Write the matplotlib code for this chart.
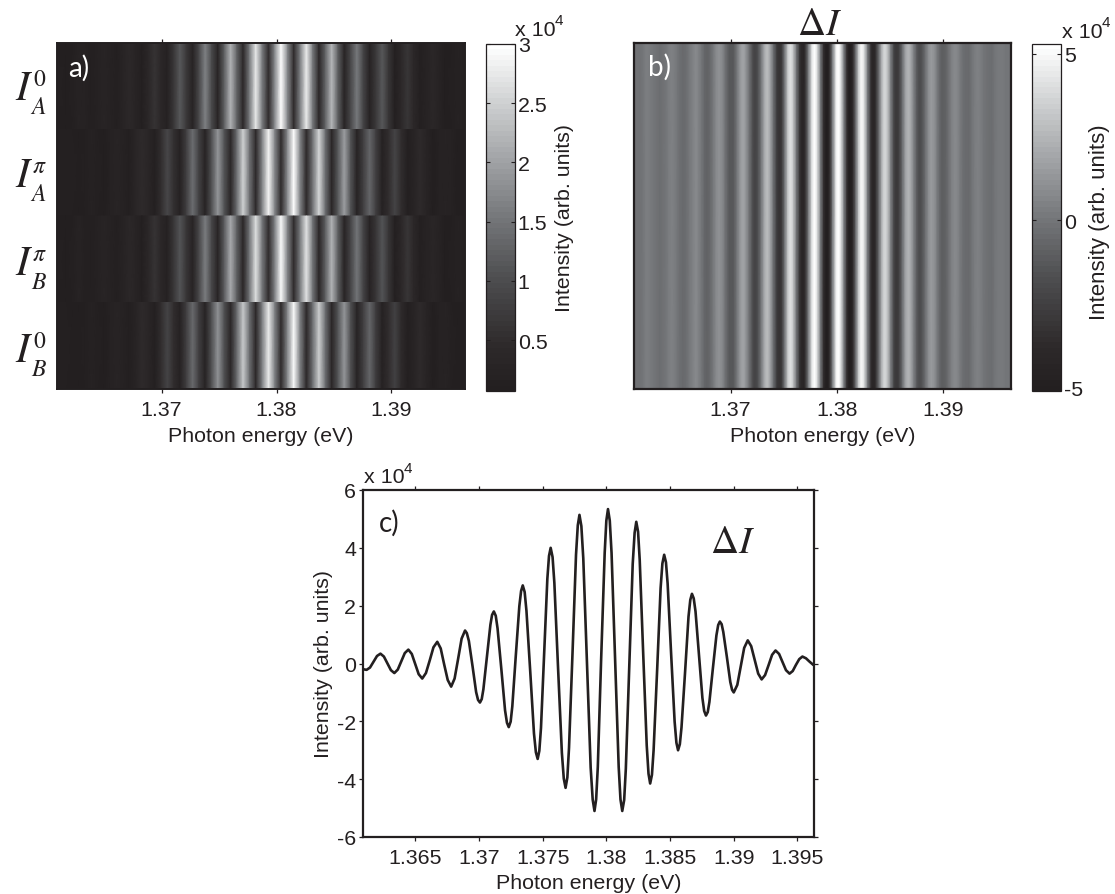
import numpy as np
import matplotlib
matplotlib.use("Agg")
import matplotlib.pyplot as plt
from matplotlib.colors import LinearSegmentedColormap, Normalize
from matplotlib.cm import ScalarMappable

# ---------- data ----------
row_sup = ['0', r'$\pi$', r'$\pi$', '0']
row_sub = ['A', 'A', 'B', 'B']

row_energy = [1.36090, 1.36170, 1.36225, 1.36280, 1.36335, 1.36390, 1.36445, 1.36500, 1.36555, 1.36610,
              1.36665, 1.36720, 1.36775, 1.36830, 1.36885, 1.36940, 1.36995, 1.37050, 1.37105, 1.37160,
              1.37215, 1.37270, 1.37325, 1.37380, 1.37435, 1.37490, 1.37545, 1.37600, 1.37655, 1.37710,
              1.37765, 1.37820, 1.37875, 1.37930, 1.37985, 1.38040, 1.38095, 1.38150, 1.38205, 1.38260,
              1.38315, 1.38370, 1.38425, 1.38480, 1.38535, 1.38590, 1.38645, 1.38700, 1.38755, 1.38810,
              1.38865, 1.38920, 1.38975, 1.39030, 1.39085, 1.39140, 1.39195, 1.39250, 1.39305, 1.39360,
              1.39415, 1.39470, 1.39525, 1.39580, 1.39640]

row_A0 = [.14, .11, .16, .22, .17, .12, .20, .28, .20, .13, .26, .40, .27, .15, .37, .60, .39, .18, .66, 1.15,
          .68, .22, .93, 1.65, .96, .28, 1.24, 2.20, 1.27, .35, 1.55, 2.75, 1.60, .45, 1.72, 3.00, 1.72, .45,
          1.62, 2.80, 1.58, .35, 1.30, 2.25, 1.26, .28, .90, 1.55, .88, .22, .68, 1.15, .65, .15, .40, .65,
          .38, .12, .23, .35, .22, .10, .15, .20, .14]

row_Api = [.12, .14, .12, .10, .15, .20, .15, .10, .19, .28, .20, .12, .30, .48, .31, .14, .52, .90, .54, .18,
           .79, 1.40, .82, .24, 1.07, 1.90, 1.10, .30, 1.40, 2.50, 1.45, .40, 1.65, 2.90, 1.69, .48, 1.74, 3.00,
           1.70, .40, 1.48, 2.55, 1.44, .32, 1.14, 1.95, 1.10, .24, .80, 1.35, .76, .17, .51, .85, .49, .12,
           .28, .45, .28, .11, .18, .25, .17, .10, .11]

row_Bpi = [.14, .11, .15, .21, .16, .12, .19, .27, .19, .13, .25, .38, .26, .15, .36, .58, .38, .17, .64, 1.12,
           .66, .21, .90, 1.60, .93, .27, 1.20, 2.13, 1.23, .34, 1.50, 2.67, 1.55, .44, 1.67, 2.95, 1.68, .44,
           1.57, 2.72, 1.53, .34, 1.26, 2.18, 1.22, .27, .87, 1.50, .85, .21, .66, 1.12, .63, .15, .39, .63,
           .37, .12, .22, .34, .21, .10, .15, .19, .14]

row_B0 = [.12, .13, .11, .10, .14, .19, .14, .10, .18, .27, .19, .12, .29, .46, .30, .14, .50, .87, .52, .18,
          .77, 1.36, .80, .24, 1.04, 1.84, 1.07, .30, 1.36, 2.43, 1.41, .39, 1.60, 2.81, 1.64, .47, 1.70, 2.95,
          1.66, .39, 1.44, 2.47, 1.40, .31, 1.11, 1.89, 1.07, .24, .78, 1.31, .74, .17, .50, .82, .48, .12,
          .27, .44, .27, .11, .17, .24, .16, .10, .11]

delta_energy = [1.36069, 1.36094, 1.36118, 1.36145, 1.36172, 1.36200, 1.36227, 1.36254, 1.36282, 1.36309, 1.36336,
                1.36363, 1.36391, 1.36418, 1.36446, 1.36473, 1.36500, 1.36527, 1.36555, 1.36584, 1.36614,
                1.36643, 1.36673, 1.36700, 1.36727, 1.36755, 1.36782, 1.36809, 1.36837, 1.36864, 1.36891,
                1.36905, 1.36921, 1.36950, 1.36978, 1.36993, 1.37008, 1.37022, 1.37035, 1.37062, 1.37090, 1.37103, 1.37117,
                1.37132, 1.37146, 1.37176, 1.37205, 1.37220, 1.37234, 1.37249, 1.37262, 1.37289, 1.37317, 1.37331, 1.37344,
                1.37359, 1.37373, 1.37403, 1.37432, 1.37447, 1.37461, 1.37474, 1.37487, 1.37512, 1.37537, 1.37550, 1.37563,
                1.37578, 1.37592, 1.37621, 1.37651, 1.37666, 1.37680, 1.37694, 1.37707, 1.37735, 1.37762, 1.37776, 1.37789,
                1.37804, 1.37819, 1.37848, 1.37877, 1.37893, 1.37907, 1.37920, 1.37933, 1.37959, 1.37987, 1.38000, 1.38013,
                1.38027, 1.38041, 1.38069, 1.38097, 1.38111, 1.38125, 1.38140, 1.38153, 1.38180, 1.38207, 1.38222, 1.38235,
                1.38249, 1.38262, 1.38289, 1.38317, 1.38331, 1.38344, 1.38358, 1.38371, 1.38399, 1.38426, 1.38440, 1.38454,
                1.38468, 1.38481, 1.38508, 1.38536, 1.38550, 1.38563, 1.38577, 1.38590, 1.38618, 1.38645, 1.38659, 1.38672,
                1.38686, 1.38700, 1.38727, 1.38754, 1.38768, 1.38782, 1.38796, 1.38809, 1.38836, 1.38864, 1.38878, 1.38891,
                1.38905, 1.38918, 1.38946, 1.38973, 1.38987, 1.39000, 1.39028, 1.39055, 1.39082, 1.39110,
                1.39137, 1.39164, 1.39192, 1.39219, 1.39246, 1.39274, 1.39301, 1.39328, 1.39356, 1.39383,
                1.39410, 1.39438, 1.39463, 1.39488, 1.39514, 1.39539, 1.39567, 1.39596, 1.39625, 1.39670]

delta_I = [-.15, -.20, -.22, -.14, .06, .26, .34, .24, .00, -.23, -.33,
           -.21, .08, .36, .48, .33, -.02, -.37, -.52, -.33, .11,
           .56, .75, .52, -.03, -.57, -.80, -.52, .17, .86, 1.14,
           1.05, .78, -.10, -.99, -1.26, -1.35, -1.23, -.89, .22, 1.34, 1.68, 1.80,
           1.65, 1.22, -.20, -1.62, -2.05, -2.20, -2.01, -1.48, .25, 1.98, 2.51, 2.70,
           2.47, 1.82, -.30, -2.42, -3.07, -3.30, -3.02, -2.23, .35, 2.93, 3.72, 4.00,
           3.68, 2.79, -.15, -3.09, -3.98, -4.30, -3.94, -2.92, .42, 3.76, 4.78, 5.14,
           4.75, 3.64, .02, -3.60, -4.71, -5.10, -4.70, -3.58, .12, 3.82, 4.94, 5.34,
           4.94, 3.82, .12, -3.58, -4.70, -5.10, -4.72, -3.64, -.10, 3.44, 4.52, 4.90,
           4.56, 3.58, .38, -2.83, -3.81, -4.15, -3.85, -3.00, -.20, 2.61, 3.46, 3.76,
           3.50, 2.77, .38, -2.01, -2.74, -3.00, -2.79, -2.21, -.30, 1.62, 2.20, 2.41,
           2.25, 1.80, .31, -1.19, -1.64, -1.80, -1.68, -1.33, -.18, .97, 1.33, 1.45,
           1.36, 1.09, .23, -.64, -.91, -1.00, -.74, -.10, .54, .80,
           .60, .13, -.35, -.55, -.40, -.05, .30, .45, .33, .05,
           -.23, -.35, -.26, -.05, .15, .24, .18, .06, -.05, -.10]

ticks_ab = [1.37, 1.38, 1.39]
ticks_c = [1.365, 1.37, 1.375, 1.38, 1.385, 1.39, 1.395]
ticklabels_c = ['1.365', '1.37', '1.375', '1.38', '1.385', '1.39', '1.395']
yticks_c = [-6, -4, -2, 0, 2, 4, 6]
cbar_a_ticks = [0.5, 1, 1.5, 2, 2.5, 3]
cbar_a_labels = ['0.5', '1', '1.5', '2', '2.5', '3']
cbar_b_ticks = [-5, 0, 5]

# ---------- style ----------
W, H = 1115, 895
INK = '#231f20'
plt.rcParams['font.family'] = ['Liberation Sans', 'DejaVu Sans']
plt.rcParams['mathtext.fontset'] = 'stix'
plt.rcParams['axes.unicode_minus'] = False
plt.rcParams['text.color'] = INK
plt.rcParams['axes.edgecolor'] = INK
plt.rcParams['axes.labelcolor'] = INK
plt.rcParams['xtick.color'] = INK
plt.rcParams['ytick.color'] = INK
FS = 15.4
SUP = 11
cmap = LinearSegmentedColormap.from_list(
    'inkgray',
    [(0.0, INK), (0.12, '#2d292a'), (0.32, '#4d4d4f'), (0.5, '#75777a'),
     (0.66, '#9fa1a4'), (0.83, '#cdcfd0'), (1.0, '#ffffff')], N=64)

fig = plt.figure(figsize=(W / 100, H / 100), dpi=100)


def box(x0, y0, x1, y1):
    return fig.add_axes([x0 / W, 1 - y1 / H, (x1 - x0) / W, (y1 - y0) / H])


def ftext(x, y, s, **kw):
    kw.setdefault('ha', 'center')
    kw.setdefault('va', 'center')
    return fig.text(x / W, 1 - y / H, s, **kw)


def times10(x, y):
    ftext(x, y, 'x 10', fontsize=FS, ha='left')
    ftext(x + 40, y - 9, '4', fontsize=SUP, ha='left')


# ---------- a) ----------
ax_a = box(57, 44, 465, 390)
rows = [row_A0, row_Api, row_Bpi, row_B0]
norm_a = Normalize(0.07, 3.0)
for i, row in enumerate(rows):
    top = 4 - i
    ax_a.pcolormesh(row_energy, [top - 1, top], np.vstack([row, row]),
                    shading='gouraud', cmap=cmap, norm=norm_a, rasterized=True)
ax_a.set_xlim(1.3609, 1.3964)
ax_a.set_ylim(0, 4)
ax_a.set_yticks([])
ax_a.set_xticks(ticks_ab, ['1.37', '1.38', '1.39'])
ax_a.tick_params(axis='x', top=True, direction='out', length=3, width=0.9, labelsize=FS, pad=5)
ax_a.set_xlabel('Photon energy (eV)', fontsize=FS, labelpad=5)
for sp in ax_a.spines.values():
    sp.set_linewidth(1.4)
ftext(79, 68, 'a)', color='white', fontsize=20, family='Lato')
for sup, sub, y in zip(row_sup, row_sub, [90, 177, 265, 352]):
    ftext(22, y, 'I', fontsize=30, family='STIXGeneral', style='italic')
    ftext(39, y - 10, sup, fontsize=17, family='STIXGeneral')
    ftext(38, y + 18, sub, fontsize=17, family='STIXGeneral', style='italic')

cax_a = box(486, 45, 515, 392)
cb_a = fig.colorbar(ScalarMappable(norm=norm_a, cmap=cmap), cax=cax_a)
cb_a.set_ticks(cbar_a_ticks, labels=cbar_a_labels)
cb_a.ax.tick_params(direction='in', length=3, width=0.8, labelsize=FS, pad=2, left=True, right=True)
cb_a.outline.set_linewidth(0.9)
ftext(565, 218, 'Intensity (arb. units)', fontsize=FS, rotation=90)
times10(515, 30)

# ---------- b) ----------
ax_b = box(634, 44, 1011, 390)
norm_b = Normalize(-5.12, 5.3)
ax_b.pcolormesh(delta_energy, [0, 1], np.vstack([delta_I, delta_I]),
                shading='gouraud', cmap=cmap, norm=norm_b, rasterized=True)
ax_b.set_xlim(1.3609, 1.3964)
ax_b.set_ylim(0, 1)
ax_b.set_yticks([])
ax_b.set_xticks(ticks_ab, ['1.37', '1.38', '1.39'])
ax_b.tick_params(axis='x', top=True, direction='out', length=3, width=0.9, labelsize=FS, pad=5)
ax_b.set_xlabel('Photon energy (eV)', fontsize=FS, labelpad=5)
for sp in ax_b.spines.values():
    sp.set_linewidth(1.6)
ftext(659, 67, 'b)', color='white', fontsize=20, family='Lato')
ftext(819, 25, r'$\Delta I$', fontsize=28)

cax_b = box(1032, 45, 1061, 392)
cb_b = fig.colorbar(ScalarMappable(norm=norm_b, cmap=cmap), cax=cax_b)
cb_b.set_ticks(cbar_b_ticks)
cb_b.ax.tick_params(direction='in', length=3, width=0.8, labelsize=FS, pad=2, left=True, right=True)
cb_b.outline.set_linewidth(0.9)
ftext(1100, 222, 'Intensity (arb. units)', fontsize=16, rotation=90)
times10(1062, 32)

# ---------- c) ----------
ax_c = box(363, 491, 814, 838)
ax_c.plot(delta_energy, delta_I, color=INK, lw=1.9, solid_joinstyle='round')
ax_c.set_xlim(1.3609, 1.3963)
ax_c.set_ylim(-6, 6)
ax_c.set_xticks(ticks_c, ticklabels_c)
ax_c.set_yticks(yticks_c)
ax_c.tick_params(axis='both', top=True, right=True, direction='out', length=3, width=0.9,
                 labelsize=FS, pad=2)
ax_c.tick_params(axis='x', pad=5)
ax_c.set_xlabel('Photon energy (eV)', fontsize=FS, labelpad=4)
ax_c.set_ylabel('Intensity (arb. units)', fontsize=FS, labelpad=3)
for name, sp in ax_c.spines.items():
    sp.set_linewidth(1.6)
ftext(389, 523, 'c)', fontsize=20, family='Lato')
ftext(732, 543, r'$\Delta I$', fontsize=28)
times10(364, 478)

fig.savefig('out.png', dpi=100)
